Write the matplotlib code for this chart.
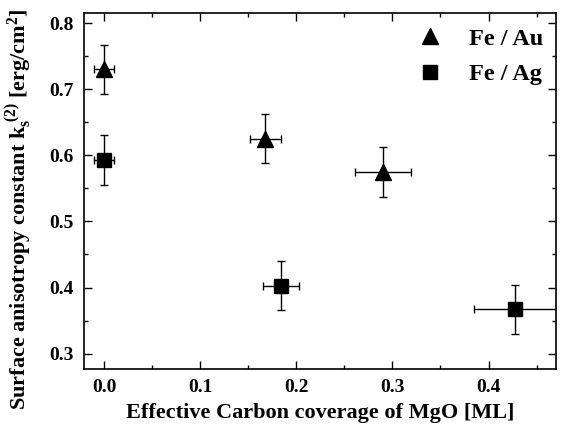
import matplotlib
matplotlib.use("Agg")
import matplotlib.pyplot as plt
from matplotlib.ticker import MultipleLocator

plt.rcParams['font.family'] = ['Liberation Serif', 'DejaVu Serif']
plt.rcParams['font.weight'] = 'bold'
plt.rcParams['mathtext.fontset'] = 'custom'
plt.rcParams['mathtext.rm'] = 'Liberation Serif:bold'
plt.rcParams['mathtext.it'] = 'Liberation Serif:bold'
plt.rcParams['mathtext.bf'] = 'Liberation Serif:bold'

# Fe / Au
au_x = [0.0, 0.168, 0.290]
au_y = [0.730, 0.625, 0.575]
au_xerr = [0.010, 0.016, 0.029]
au_yerr = [0.037, 0.037, 0.038]

# Fe / Ag
ag_x = [0.0, 0.184, 0.428]
ag_y = [0.593, 0.403, 0.367]
ag_xerr = [0.010, 0.019, 0.043]
ag_yerr = [0.038, 0.037, 0.037]

fig = plt.figure(figsize=(5.66, 4.24), dpi=100)
ax = fig.add_axes([0.148, 0.130, 0.834, 0.839])

ax.errorbar(au_x, au_y, xerr=au_xerr, yerr=au_yerr, fmt='^', color='black',
            ms=12, capsize=3, elinewidth=1, capthick=1, label='Fe / Au')
ax.errorbar(ag_x, ag_y, xerr=ag_xerr, yerr=ag_yerr, fmt='s', color='black',
            ms=9.5, capsize=3, elinewidth=1, capthick=1, label='Fe / Ag')

ax.set_xlim(-0.021, 0.470)
ax.set_ylim(0.277, 0.815)
ax.xaxis.set_major_locator(MultipleLocator(0.1))
ax.xaxis.set_minor_locator(MultipleLocator(0.05))
ax.yaxis.set_major_locator(MultipleLocator(0.1))
ax.yaxis.set_minor_locator(MultipleLocator(0.05))
ax.tick_params(which='both', direction='in', top=True, right=True, width=1)
ax.tick_params(which='major', length=6, labelsize=14, pad=7)
ax.tick_params(which='minor', length=3)
for lab in ax.get_xticklabels() + ax.get_yticklabels():
    lab.set_fontweight('bold')
for s in ax.spines.values():
    s.set_linewidth(1.2)

ax.set_xlabel('Effective Carbon coverage of MgO [ML]', fontsize=16,
              fontweight='bold', labelpad=5)
ax.set_ylabel(r'Surface anisotropy constant k$_{\rm s}^{\rm \ (2)}$ [erg/cm$^{\rm 2}$]',
              fontsize=16, fontweight='bold')
ax.yaxis.set_label_coords(-0.105, 0.45)

h, l = ax.get_legend_handles_labels()
h = [hh[0] for hh in h]
ax.legend(h, l, loc='upper right', bbox_to_anchor=(1.005, 1.0), frameon=False,
          prop={'weight': 'bold', 'size': 17.5}, handletextpad=0.6,
          borderaxespad=0.2, labelspacing=0.55)

fig.savefig('out.png', dpi=100)
